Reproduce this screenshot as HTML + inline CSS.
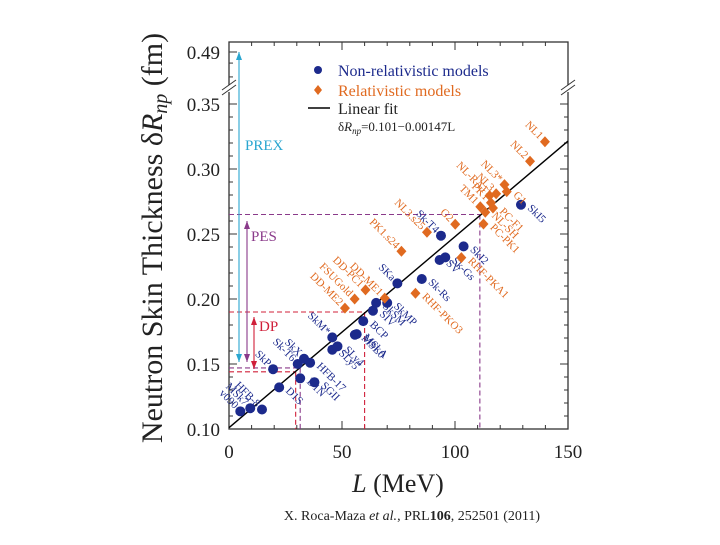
<!DOCTYPE html>
<html><head><meta charset="utf-8"><style>
html,body{margin:0;padding:0;background:#fff;}
svg text{font-family:"Liberation Serif",serif;}
</style></head><body>
<svg id="chart" width="720" height="540" viewBox="0 0 720 540" xmlns="http://www.w3.org/2000/svg">
<g id="axes"></g>
<g id="marks"></g>
<g>
 <circle cx="318" cy="70" r="4" fill="#1c2a8c"/>
 <text x="338" y="76" font-size="16" fill="#1c2a8c">Non-relativistic models</text>
 <path d="M318 85 L322 90 L318 95 L314 90 Z" fill="#e06a20"/>
 <text x="338" y="96" font-size="16" fill="#e06a20">Relativistic models</text>
 <line x1="308" y1="108" x2="330" y2="108" stroke="#000" stroke-width="1.5"/>
 <text x="338" y="114" font-size="16" fill="#222">Linear fit</text>
 <text x="338" y="131" font-size="13" fill="#222">δ<tspan font-style="italic">R</tspan><tspan font-style="italic" font-size="9" dy="3">np</tspan><tspan dy="-3">=0.101−0.00147L</tspan></text>
</g>
<text x="245" y="150" font-size="15" fill="#2aa6d0">PREX</text>
<text x="251" y="241" font-size="15" fill="#8a3a8a">PES</text>
<text x="259" y="331" font-size="15" fill="#d0203a">DP</text>
<text transform="translate(162,238) rotate(-90)" text-anchor="middle" font-size="30" fill="#222">Neutron Skin Thickness δ<tspan font-style="italic">R</tspan><tspan font-style="italic" font-size="20" dy="5">np</tspan><tspan dy="-5"> (fm)</tspan></text>
<text x="398" y="492" text-anchor="middle" font-size="26" fill="#222"><tspan font-style="italic">L</tspan> (MeV)</text>
<text x="412" y="520" text-anchor="middle" font-size="14" fill="#222">X. Roca-Maza <tspan font-style="italic">et al.</tspan>, PRL<tspan font-weight="bold">106</tspan>, 252501 (2011)</text>
</svg>
<script>
const xTicks=[0,50,100,150];
const yTicks=[0.10,0.15,0.20,0.25,0.30,0.35];
const yTickLabels=["0.10","0.15","0.20","0.25","0.30","0.35"];
const fitIntercept=0.101, fitSlope=0.00147;
const nrNames=["v090","MSk7","HFB-8","D1S","SkP","Sk-T6","SkX","HFB-17","D1N","SGII","SkM*","SLy5","SLy4","MSL0","MSkA","BCP","SIV","SkSM","SkMP","SKa","Sk-Rs","SV","Sk-Gs","SkI2","Sk-T4","SkI5"];
const nrL=[5,9.4,14.6,22.2,19.5,30.4,33.2,35.9,31.5,37.8,45.7,45.7,48,55.7,56.5,59.4,63.7,65.1,70,74.5,85.3,93.2,95.7,103.8,93.8,129.2];
const nrR=[0.1136,0.116,0.115,0.132,0.146,0.150,0.154,0.151,0.139,0.136,0.1705,0.161,0.1636,0.1725,0.173,0.183,0.191,0.197,0.197,0.212,0.2154,0.230,0.232,0.2405,0.2487,0.2725];
const nrSide=["L","L","L","R","L","L","L","R","R","R","L","R","R","R","R","R","R","R","R","L","R","R","R","R","L","R"];
const rNames=["PK1.s24","NL3.s25","RHF-PKA1","RHF-PKO3","DD-PC1","FSUGold","DD-ME2","DD-ME1","NL1","NL2","NL3*","G1","NL3","NL-RA1","PK1","TM1","NL-SH","PC-F1","PC-PK1","G2"];
const rL=[76.3,87.6,102.8,82.5,60.4,55.6,51.3,68.9,139.8,133.2,121.9,122.9,118.2,115.3,115.9,111.2,113.4,116.8,112.6,100.1];
const rR=[0.2367,0.2513,0.2318,0.2044,0.207,0.200,0.193,0.2007,0.321,0.306,0.288,0.2826,0.281,0.2795,0.274,0.271,0.2667,0.270,0.2577,0.2575];
const rSide=["L","L","R","R","L","L","L","L","L","L","L","R","L","L","L","L","R","R","R","L"];

const NS="http://www.w3.org/2000/svg";
const X0=229,X1=568,Y0=429;
function xs(L){return X0+(L/150)*(X1-X0);}
function ys(R){ if(R<=0.36) return Y0-(R-0.1)*1300; return 88-(R-0.36)/(0.49-0.36)*36; }
const axes=document.getElementById('axes'), marks=document.getElementById('marks');
function mk(tag,at,parent){const e=document.createElementNS(NS,tag);for(const k in at)e.setAttribute(k,at[k]);(parent||marks).appendChild(e);return e;}

let f=mk('rect',{x:X0,y:42,width:X1-X0,height:Y0-42,fill:'none',stroke:'#333','stroke-width':1.3},axes);


[X0,X1].forEach(function(bx){
  let m=mk('rect',{x:bx-5,y:85,width:10,height:7,fill:'#fff'},axes);
  
  
  [0,5].forEach(function(o){let l=mk('line',{x1:bx-7,y1:95-o,x2:bx+7,y2:85-o,stroke:'#333','stroke-width':1},axes);
  
  });
});
for(let v=0;v<=150;v+=10){
  const major=xTicks.indexOf(v)>=0; const len=major?8:4;
  let t=mk('line',{x1:xs(v),y1:Y0,x2:xs(v),y2:Y0-len,stroke:'#333'},axes);
  
  
  let t2=mk('line',{x1:xs(v),y1:42,x2:xs(v),y2:42+len,stroke:'#333'},axes);
  
  
}
xTicks.forEach(function(v){let t=mk('text',{x:xs(v),y:458,'text-anchor':'middle','font-size':19,fill:'#222'},axes);t.textContent=String(v);

});
for(let i=0;i<=25;i++){
  const v=0.10+i*0.01; const major=(i%5===0); const len=major?8:4;
  let t=mk('line',{x1:X0,y1:ys(v),x2:X0+len,y2:ys(v),stroke:'#333'},axes);
  
  
  let t2=mk('line',{x1:X1,y1:ys(v),x2:X1-len,y2:ys(v),stroke:'#333'},axes);
  
  
}
[0.40,0.45,0.49].forEach(function(v){let t=mk('line',{x1:X0,y1:ys(v),x2:X0+(v===0.49?8:4),y2:ys(v),stroke:'#333'},axes);

});
yTicks.forEach(function(v,i){let t=mk('text',{x:220,y:ys(v)+7,'text-anchor':'end','font-size':19,fill:'#222'},axes);t.textContent=yTickLabels[i];

});
let t49=mk('text',{x:220,y:ys(0.49)+7,'text-anchor':'end','font-size':19,fill:'#222'},axes);t49.textContent='0.49';



function dash(x1,y1,x2,y2,c,name){let l=mk('line',{x1:x1,y1:y1,x2:x2,y2:y2,stroke:c,'stroke-width':1.1,'stroke-dasharray':'5,3'});

}
const PU='#8a3a8a',RD='#d0203a',CY='#2aa6d0';
dash(X0,ys(0.265),xs(111),ys(0.265),PU,'pes-upper-h');
dash(xs(111),ys(0.265),xs(111),Y0,PU,'pes-upper-v');
dash(X0,ys(0.147),xs(31.5),ys(0.147),PU,'pes-lower-h');
dash(xs(31.5),ys(0.147),xs(31.5),Y0,PU,'pes-lower-v');
dash(X0,ys(0.19),xs(60),ys(0.19),RD,'dp-upper-h');
dash(xs(60),ys(0.19),xs(60),Y0,RD,'dp-upper-v');
dash(X0,ys(0.144),xs(29.5),ys(0.144),RD,'dp-lower-h');
dash(xs(29.5),ys(0.144),xs(29.5),Y0,RD,'dp-lower-v');
function arrow(x,y1,y2,c,name){
  let l=mk('line',{x1:x,y1:y1,x2:x,y2:y2,stroke:c,'stroke-width':1.1});
  
  
  let a=mk('path',{d:'M'+(x-3)+' '+(y1+8)+' L'+x+' '+y1+' L'+(x+3)+' '+(y1+8)+'Z',fill:c});
  
  
  let b=mk('path',{d:'M'+(x-3)+' '+(y2-8)+' L'+x+' '+y2+' L'+(x+3)+' '+(y2-8)+'Z',fill:c});
  
  
}
arrow(239,ys(0.49),362,CY,'prex-arrow');
arrow(247,221,362,PU,'pes-arrow');
arrow(254,317,369,RD,'dp-arrow');

let fl=mk('line',{x1:xs(0),y1:ys(fitIntercept),x2:xs(150),y2:ys(fitIntercept+fitSlope*150),stroke:'#000','stroke-width':1.4});



function label(x,y,txt,side,c){
  const dx=side==='R'?6:-6;
  let t=mk('text',{x:0,y:0,'font-size':11,fill:c,'text-anchor':side==='R'?'start':'end',transform:'translate('+(x+dx)+','+(y+(side==='R'?4:-2))+') rotate(45)'});
  t.textContent=txt;
  
  
}
nrL.forEach(function(L,i){
  let c=mk('circle',{cx:xs(L),cy:ys(nrR[i]),r:5,fill:'#1c2a8c'});
  
  
  label(xs(L),ys(nrR[i]),nrNames[i],nrSide[i],'#1c2a8c');
});
rL.forEach(function(L,i){
  const x=xs(L),y=ys(rR[i]);
  let d=mk('path',{d:'M'+x+' '+(y-5.5)+' L'+(x+5)+' '+y+' L'+x+' '+(y+5.5)+' L'+(x-5)+' '+y+'Z',fill:'#e06a20'});
  
  
  label(x,y,rNames[i],rSide[i],'#e06a20');
});
</script>
</body></html>
